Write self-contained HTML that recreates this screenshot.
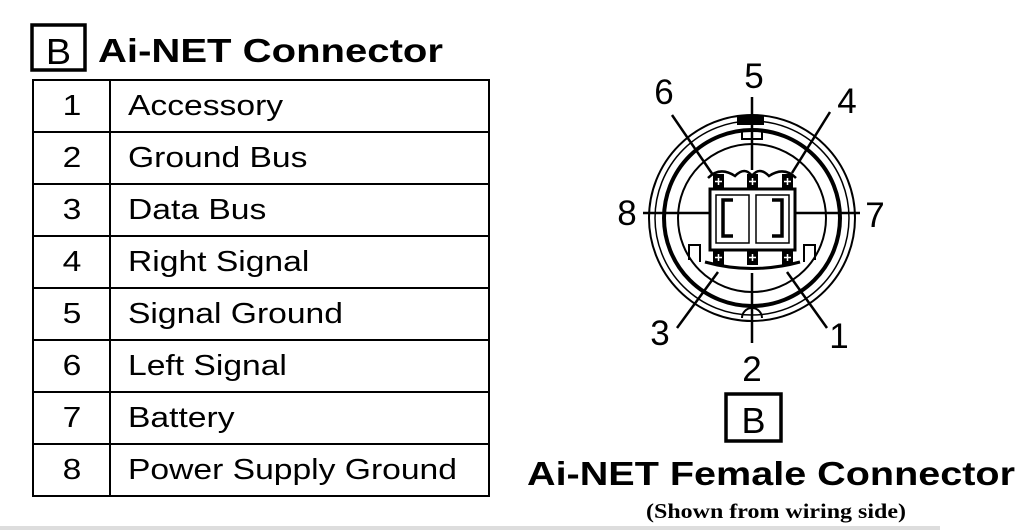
<!DOCTYPE html>
<html><head><meta charset="utf-8"><style>
html,body{margin:0;padding:0;background:#fff;}
svg{display:block;}
</style></head><body>
<svg width="1033" height="530" viewBox="0 0 1033 530" xmlns="http://www.w3.org/2000/svg" font-family="Liberation Sans, Arial, sans-serif">
<rect x="0" y="0" width="1033" height="530" fill="#fff"/>
<rect x="0" y="526" width="940" height="4" fill="#ddd"/>
<!-- Title -->
<rect x="32" y="25" width="53" height="45" fill="none" stroke="#000" stroke-width="3.5"/>
<text x="58.5" y="64" font-size="36" text-anchor="middle" fill="#000" transform="translate(58.5,0) scale(1.05,1) translate(-58.5,0)">B</text>
<text x="98" y="62" font-size="33" font-weight="bold" textLength="345" lengthAdjust="spacingAndGlyphs">Ai-NET  Connector</text>
<!-- Table -->
<g stroke="#000" stroke-width="2" fill="none">
<rect x="33" y="80" width="456" height="416"/>
<line x1="110" y1="80" x2="110" y2="496"/>
<line x1="33" y1="132" x2="489" y2="132"/>
<line x1="33" y1="184" x2="489" y2="184"/>
<line x1="33" y1="236" x2="489" y2="236"/>
<line x1="33" y1="288" x2="489" y2="288"/>
<line x1="33" y1="340" x2="489" y2="340"/>
<line x1="33" y1="392" x2="489" y2="392"/>
<line x1="33" y1="444" x2="489" y2="444"/>
</g>
<g font-size="29" fill="#000" transform="translate(128,0) scale(1.16,1)">
<text x="0" y="115">Accessory</text>
<text x="0" y="167">Ground Bus</text>
<text x="0" y="219">Data Bus</text>
<text x="0" y="271">Right Signal</text>
<text x="0" y="323">Signal Ground</text>
<text x="0" y="375">Left Signal</text>
<text x="0" y="427">Battery</text>
<text x="0" y="479">Power Supply Ground</text>
</g>
<g font-size="29" fill="#000" text-anchor="middle" transform="translate(72,0) scale(1.16,1)">
<text x="0" y="115">1</text><text x="0" y="167">2</text><text x="0" y="219">3</text><text x="0" y="271">4</text>
<text x="0" y="323">5</text><text x="0" y="375">6</text><text x="0" y="427">7</text><text x="0" y="479">8</text>
</g>
<!-- Connector -->
<g fill="none" stroke="#000">
<circle cx="752" cy="218" r="103" stroke-width="2"/>
<circle cx="752" cy="218" r="97" stroke-width="1.5"/>
<circle cx="752" cy="218" r="88" stroke-width="4"/>
<circle cx="752" cy="218" r="74" stroke-width="2"/>
<path d="M689 260 L689 245 L700 245 L700 262" stroke-width="2"/>
<path d="M815 260 L815 245 L804 245 L804 262" stroke-width="2"/>
<path d="M742 318 A10 10 0 0 1 762 318" stroke-width="2"/>
<path d="M742 131 L742 139 L762 139 L762 131" stroke-width="2"/>
<path d="M708 178 Q720 166 735 176 Q745 166 752 176 Q759 166 769 176 Q784 166 796 178" stroke-width="2.5"/>
<rect x="710" y="189" width="85" height="61" stroke-width="3"/>
<rect x="716" y="195" width="33" height="48" stroke-width="1.5"/>
<rect x="756" y="195" width="33" height="48" stroke-width="1.5"/>
<path d="M733 200 L723 200 L723 236 L733 236" stroke-width="3.5"/>
<path d="M772 200 L782 200 L782 236 L772 236" stroke-width="3.5"/>
<path d="M705 262 Q752 275 800 262" stroke-width="3"/>
</g>
<g fill="#000">
<rect x="737" y="115" width="27" height="10"/>
<rect x="713" y="174" width="11" height="15"/><rect x="747" y="174" width="11" height="15"/><rect x="782" y="174" width="11" height="15"/>
<rect x="713" y="250" width="11" height="15"/><rect x="747" y="250" width="11" height="15"/><rect x="782" y="250" width="11" height="15"/>
</g>
<g stroke="#fff" stroke-width="1.5">
<line x1="718.5" y1="178" x2="718.5" y2="185"/><line x1="715" y1="181.5" x2="722" y2="181.5"/>
<line x1="752.5" y1="178" x2="752.5" y2="185"/><line x1="749" y1="181.5" x2="756" y2="181.5"/>
<line x1="787.5" y1="178" x2="787.5" y2="185"/><line x1="784" y1="181.5" x2="791" y2="181.5"/>
<line x1="718.5" y1="254" x2="718.5" y2="261"/><line x1="715" y1="257.5" x2="722" y2="257.5"/>
<line x1="752.5" y1="254" x2="752.5" y2="261"/><line x1="749" y1="257.5" x2="756" y2="257.5"/>
<line x1="787.5" y1="254" x2="787.5" y2="261"/><line x1="784" y1="257.5" x2="791" y2="257.5"/>
</g>
<g stroke="#000" stroke-width="2.5">
<line x1="752" y1="97" x2="752" y2="170"/>
<line x1="672" y1="115" x2="713" y2="175"/>
<line x1="830" y1="112" x2="792" y2="173"/>
<line x1="643" y1="213" x2="710" y2="213"/>
<line x1="795" y1="213" x2="860" y2="213"/>
<line x1="677" y1="328" x2="718" y2="272"/>
<line x1="752" y1="273" x2="752" y2="343"/>
<line x1="787" y1="272" x2="827" y2="328"/>
</g>
<g font-size="35" fill="#000" text-anchor="middle">
<text x="754" y="88">5</text>
<text x="664" y="104">6</text>
<text x="847" y="113">4</text>
<text x="627" y="225">8</text>
<text x="875" y="227">7</text>
<text x="660" y="345">3</text>
<text x="839" y="348">1</text>
<text x="752" y="381">2</text>
</g>
<!-- Bottom caption -->
<rect x="726" y="394" width="55" height="47" fill="none" stroke="#000" stroke-width="3.5"/>
<text x="753.5" y="433" font-size="36" text-anchor="middle" fill="#000">B</text>
<text x="527" y="485" font-size="33" font-weight="bold" textLength="488" lengthAdjust="spacingAndGlyphs">Ai-NET  Female Connector</text>
<text x="776" y="518" font-size="21" font-weight="bold" font-family="Liberation Serif, serif" text-anchor="middle" textLength="260" lengthAdjust="spacingAndGlyphs">(Shown from wiring side)</text>
</svg>
</body></html>
